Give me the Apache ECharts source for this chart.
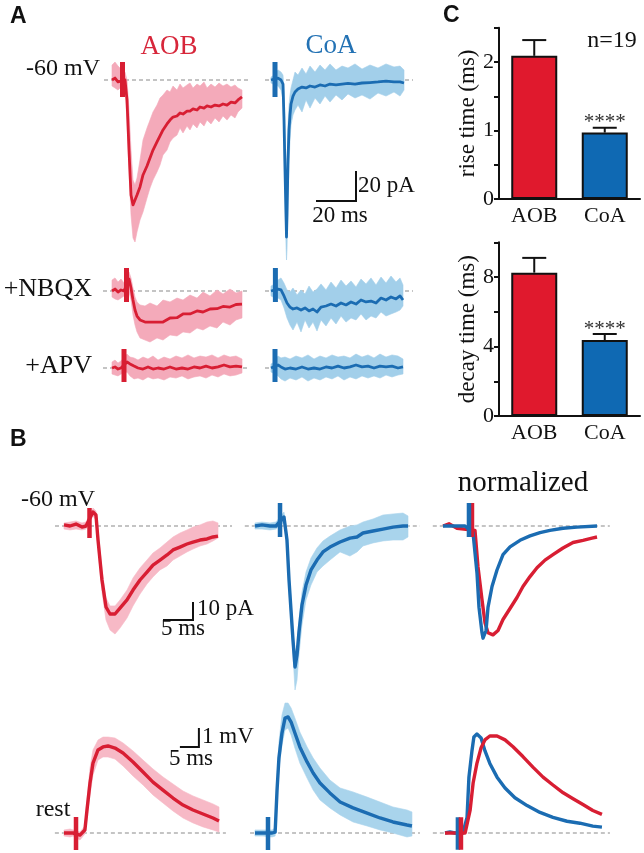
<!DOCTYPE html>
<html>
<head>
<meta charset="utf-8">
<script src="https://cdn.jsdelivr.net/npm/echarts@6/dist/echarts.min.js"></script>
<style>
html,body{margin:0;padding:0;background:#fff;}
#chart{width:644px;height:853px;}
</style>
</head>
<body>
<div id="chart"></div>
<script>
// ---------------- DATA ----------------
// Panel A, -60 mV (time ms, current pA)
const aobA_t  = [0,1.5,3,4,6.5,7.5,8.5,9.5,10.5,11.5,12.5,14,15.5,17.5,19,20.5,22.5,24,25.5,27.5,29,30.5,32.5,34,35.5,37.5,39,40.5,42.5,44,46,47.5,49.5,51.5,53.5,55.5,57.5,59.5,61.5,63,65];
const aobA_i  = [0,1.3,-1.3,0,0,-13.3,-46.7,-76.7,-83.3,-82,-76.7,-71.3,-63.3,-57.3,-52,-46.7,-41.3,-37.3,-33.3,-29.3,-26.7,-24.7,-24,-22,-22.7,-20.7,-20.7,-19.3,-20,-18,-18.7,-17.3,-18,-16.7,-17.3,-16,-16.7,-14.7,-15.3,-13.3,-11.3];
const aobA_hi = [10,12,9.3,8,5.3,0,-20,-46.7,-66.7,-70,-65.3,-53.3,-40,-32,-26.7,-21.3,-16.7,-12,-10,-6.7,-8,-4,-6.7,-2.7,-5.3,-3.3,-2,-5.3,-2.7,-4,-1.3,-5.3,-2.7,-4.7,-2,-4,-2.7,-4.7,-3.3,-5.3,-6.7];
const aobA_lo = [-4,-5.3,-6.7,-5.3,-5.3,-26.7,-60,-90,-105.3,-108,-101.3,-93.3,-88,-78.7,-72,-66.7,-61.3,-56.7,-50,-46.7,-41.3,-38.7,-36.7,-32,-35.3,-30.7,-33.3,-29.3,-32,-28,-30.7,-26.7,-29.3,-25.3,-28,-24,-26.7,-23.3,-25.3,-21.3,-18.7];
const aobA_art = [5.25, 12, -11.3];

const coaA_t  = [0,1,3.5,5,6,6.5,7,7.5,7.75,8,8.5,9,9.5,10,11,12,13.5,15.5,17.5,19.5,22,24.5,27,29.5,32.5,35.5,38.5,42,45.5,49.5,53.5,57.5,61.5,64.5,66.5];
const coaA_i  = [0,0,1.3,0,-2.7,-26.7,-60,-90,-104.7,-90,-53.3,-33.3,-23.3,-16,-10.7,-8,-6,-4.7,-5.3,-4,-4.7,-3.3,-4,-2.7,-3.3,-2.7,-2.3,-2.7,-2,-1.7,-1.3,-0.7,-1.3,-1.3,-2];
const coaA_hi = [2,2.7,6.7,5.3,3.3,-6.7,-33.3,-66.7,-80,-60,-30,-16.7,-10,-5.3,0,5.3,3.3,8,4,9.3,5.3,10,6.7,10.7,6.7,9.3,8,10.7,7.3,10,8,10.7,8.7,9.3,6.7];
const coaA_lo = [-2,-2.7,-4,-6.7,-13.3,-40,-80,-110,-120,-113.3,-80,-56.7,-40,-30,-23.3,-20,-16.7,-21.3,-13.3,-18.7,-12,-16,-10.7,-14.7,-10,-13.3,-9.3,-12,-10,-12.7,-8.7,-10.7,-8,-10.7,-6.7];
const coaA_art = [2, 12, -11.3];

// Panel A, +NBQX
const aobN_t  = [0,1.5,3,4.5,6,8.5,9.5,10.5,11.5,12.5,14,16.5,19,22.5,25.5,29,32.5,35.5,39,42.5,45.5,49,52.5,55.5,59,62,65];
const aobN_i  = [0,1.3,-0.7,0.7,0,8,2,-6,-12.7,-16.7,-19.3,-20.7,-20.7,-20.7,-20.7,-18,-17.8,-15.3,-15.3,-13.3,-14,-12,-11.8,-10.3,-10.7,-9,-8.7];
const aobN_hi = [7.3,8.7,6,8,5.3,12.7,8.7,2,-4,-7.3,-9.3,-10,-8,-10,-6,-7.3,-4.7,-6,-2.7,-4.7,-0.7,-3.3,0.7,-2,1.3,-1.3,0];
const aobN_lo = [-4,-5.3,-6,-4.7,-3.3,-0.7,-6,-16,-22.7,-27.3,-31.3,-32.7,-34,-31.3,-32.7,-29.3,-30,-27.3,-28,-24.7,-26,-23.3,-24.7,-20.7,-22.7,-19.3,-18];
const aobN_art = [7.25, 15.3, -7.3];

const coaN_t  = [0,1,3.5,5,6.5,8,9.5,11,13,15,17,19,21,23,25,27.5,30,32.5,35,37.5,40,42.5,45,47.5,50,52.5,55,57.5,60,62.5,64.5,66];
const coaN_i  = [0,0,1.3,0.7,-3.3,-8,-10.7,-12,-11.3,-12.7,-11.3,-13.3,-12,-14,-10.7,-10,-8.7,-10,-8,-9.3,-7.3,-8.7,-6,-7.3,-6.7,-8,-4.7,-6,-4,-5.3,-3.3,-6];
const coaN_hi = [3.3,4,7.3,8.7,5.3,0.7,-0.7,2,-2.7,0.7,-2,3.3,-0.7,1.3,4.7,0.7,6,2,7.3,3.3,6.7,2.7,8,4.7,8.7,4,9.3,5.3,10,6,8.7,4];
const coaN_lo = [-3.3,-4,-4.7,-6,-11.3,-18,-22.7,-26,-20.7,-27.3,-19.3,-24.7,-20.7,-26.7,-19.3,-23.3,-18,-22,-16.7,-20.7,-18,-19.3,-15.3,-19.3,-16.7,-18,-14,-16.7,-15.3,-14,-12.7,-10];
const coaN_art = [2.2, 15.3, -7.3];

// Panel A, +APV
const aobP_t  = [0,1.5,3,4.5,7.5,9,11,13,15.5,18,20.5,23,26,29,32,35,38,41,44,47,50,53,56,59,62,65];
const aobP_i  = [0,0.7,-0.7,0,4,2.7,1.3,0,-0.7,0.7,-0.7,0,-0.7,0.7,-0.7,0,-0.7,0.7,0,1.3,0,0.7,2,0.7,1.3,0.7];
const aobP_hi = [4,5.3,3.3,4.7,9.3,7.3,6.7,5.3,7.3,6,8,5.3,7.3,6,8,6.7,8.7,6.7,8,7.3,8.7,6.7,8.7,7.3,8,6];
const aobP_lo = [-4,-4.7,-5.3,-4,-2.7,-5.3,-7.3,-6.7,-8,-6,-7.3,-6.7,-8,-6,-6.7,-5.3,-7.3,-6,-5.3,-6.7,-4.7,-6,-4,-5.3,-4.7,-3.3];
const aobP_art = [6, 12.7, -9.3];

const coaP_t  = [0,1,3.5,5,7,9.5,12.5,15.5,18.5,21.5,24.5,27.5,30.5,33.5,36.5,39.5,42.5,45.5,48.5,51.5,54.5,57.5,60.5,63.5,66];
const coaP_i  = [0,0,2,0.7,-0.7,0,-0.7,0.7,-0.7,0,-0.7,0.7,0,1.3,0,0.7,2,0.7,1.3,0,1.3,0.7,1.3,0,0.7];
const coaP_hi = [2.7,3.3,8,6.7,7.3,6,8,6.7,8.7,6,8,6.7,8.7,7.3,8,6.7,9.3,7.3,8.7,6.7,9.3,7.3,8.7,8,6];
const coaP_lo = [-2.7,-3.3,-5.3,-7.3,-8.7,-6.7,-8,-6,-8.7,-6.7,-8,-6,-7.3,-5.3,-8,-6,-7.3,-5.3,-6.7,-5.3,-6.7,-4.7,-6,-4.7,-4];
const coaP_art = [2, 12.7, -9.3];

// Panel B, EPSCs at -60 mV (ms, pA)
const aobBt_t  = [0,1,2,3,3.67,4.83,5.33,5.67,6.33,7,7.67,8.5,9.33,10.5,11.5,12.67,13.83,14.83,16,17.17,18.17,19.33,20.5,21.5,22.67,23.83,24.83,25.67];
const aobBt_i  = [0.6,0,1.1,-0.6,0,7.8,6.1,-7.8,-30,-45,-48.9,-48.9,-45.6,-41.1,-35.6,-30,-25.6,-21.7,-18.9,-16.1,-13.3,-11.7,-10,-8.9,-7.8,-7.2,-6.1,-5.6];
const aobBt_hi = [1.7,2.2,2.8,1.7,2.2,10,8.3,-2.2,-24.4,-40,-44.4,-44.4,-41.1,-35.6,-28.9,-23.3,-18.9,-15,-12.2,-8.9,-6.1,-3.9,-2.2,-0.6,0.6,2.2,2.8,1.7];
const aobBt_lo = [-1.7,-2.2,-1.7,-2.2,-1.7,5.6,3.3,-12.2,-36.7,-52.2,-57.8,-60,-56.7,-51.1,-44.4,-37.8,-32.2,-28.3,-24.4,-22.2,-18.9,-16.7,-14.4,-12.8,-11.1,-10,-8.3,-6.7];
const aobBt_art = [4.25, 10, -6.7];

const coaBt_t  = [0,1.17,2.5,3.5,4.83,5.33,5.67,6,6.33,6.67,7,7.33,7.83,8.5,9.33,10.33,11.33,12.5,14.17,15.83,17,18,19.67,21.33,23,24.67,25.5];
const coaBt_i  = [0,0.6,0,0,5,-7.8,-30,-46.7,-63.3,-78.3,-71.7,-58.9,-43.9,-32.8,-24.4,-18.9,-14.4,-11.7,-8.9,-6.7,-6.1,-3.9,-2.8,-1.7,-0.6,0,0];
const coaBt_hi = [1.7,2.2,1.7,2.2,7.8,-3.9,-25.6,-41.1,-57.8,-71.7,-66.1,-52.2,-36.7,-25.6,-17.8,-12.2,-8.3,-5.6,-2.2,0,0.6,2.2,3.9,6.1,6.7,7.2,5.6];
const coaBt_lo = [-1.7,-1.7,-2.2,-1.7,2.2,-11.7,-35.6,-53.3,-71.7,-91.1,-85.6,-71.7,-55,-41.1,-32.8,-25.6,-22.2,-18.9,-14.4,-16.7,-14.4,-11.1,-9.4,-8.3,-7.8,-7.8,-6.1];
const coaBt_art = [4.17, 12.8, -6.1];

// normalized EPSCs
const nrmBt_blue_t = [0,2,3.67,5,5.67,6,6.5,6.67,7.17,7.5,8.17,9,10,11.17,12.83,14.5,16.17,17.83,20,22.33,25.67];
const nrmBt_blue   = [0,0,0,-0.06,-0.43,-0.74,-0.97,-1.02,-0.95,-0.74,-0.55,-0.4,-0.26,-0.19,-0.13,-0.09,-0.06,-0.04,-0.02,-0.01,0];
const nrmBt_red_t  = [0,1,2.33,5.33,5.83,6.5,7,7.5,8.33,9.17,10,11.17,12.33,13.33,14.5,15.67,17,18.33,20,21.67,23.33,24.83,25.67];
const nrmBt_red    = [0,0.02,-0.02,-0.04,-0.37,-0.67,-0.88,-0.97,-0.99,-0.95,-0.85,-0.75,-0.65,-0.55,-0.46,-0.38,-0.31,-0.26,-0.2,-0.15,-0.13,-0.11,-0.1];
const nrmBt_blue_art = [4.33, 0.21, -0.1];
const nrmBt_red_art  = [4.83, 0.21, -0.1];

// Panel B, EPSPs at rest (ms, mV)
const aobBb_t  = [0,1.6,2.4,4.2,5.5,6.05,6.84,7.63,8.95,10.26,11.58,13.42,15.53,18.16,20.79,23.42,26.05,28.68,31.32,33.95,36.58,39.21,40.79];
const aobBb_v  = [0,0,0,-0.11,0.16,1.21,2.63,3.68,4.37,4.53,4.58,4.47,4.21,3.74,3.21,2.68,2.26,1.84,1.47,1.21,1,0.79,0.63];
const aobBb_hi = [0.16,0.21,0.16,0.05,0.37,1.74,3.42,4.37,4.89,5.05,5.05,5,4.74,4.32,3.84,3.37,2.95,2.58,2.21,1.95,1.74,1.53,1.37];
const aobBb_lo = [-0.16,-0.21,-0.16,-0.37,-0.05,0.79,2,3.05,3.84,4,4,3.89,3.53,3,2.53,2,1.58,1.16,0.79,0.53,0.32,0.16,0.05];
const aobBb_art = [3.16, 0.84, -0.89];

const coaBb_t  = [0,1.3,2.1,4.5,5.3,5.8,6.3,7.1,7.9,8.7,9.5,10.5,11.8,13.7,15.3,17.1,19.7,22.4,25.8,29.5,32.9,36.3,40,41.3];
const coaBb_v  = [0,0,0,0,0.05,2.26,3.95,5.26,6.05,6.11,5.84,5.26,4.53,3.74,3.16,2.63,2.11,1.63,1.32,1.05,0.79,0.58,0.42,0.37];
const coaBb_hi = [0.16,0.16,0.16,0.16,0.26,2.89,4.79,6.21,6.84,6.84,6.58,6.05,5.32,4.53,3.95,3.42,2.79,2.37,2.16,1.89,1.63,1.37,1.21,1.11];
const coaBb_lo = [-0.16,-0.16,-0.16,-0.21,-0.16,1.74,3.42,4.63,5.42,5.53,5.16,4.47,3.68,2.89,2.26,1.74,1.32,0.95,0.58,0.37,0.16,0,-0.21,-0.16];
const coaBb_art = [3.42, 0.84, -0.89];

// normalized EPSPs
const nrmBb_blue_t = [0,1.3,2.6,4.7,5.8,6.3,7.1,7.6,8.4,9.5,10.5,11.8,13.7,15.8,18.4,21.6,25,28.4,32.1,35.5,38.9,41.3];
const nrmBb_blue   = [0,0.01,0,0,0.16,0.57,0.84,0.98,1.01,0.97,0.84,0.71,0.57,0.46,0.36,0.28,0.21,0.16,0.12,0.1,0.07,0.06];
const nrmBb_red_t  = [0,1.3,2.6,5.3,6.6,7.4,8.4,9.5,10.5,11.8,13.7,15.8,17.9,20.5,23.2,25.8,28.4,31.1,33.7,36.3,38.9,41.3];
const nrmBb_red    = [0,0,0,0,0.23,0.51,0.71,0.87,0.95,0.99,0.99,0.95,0.88,0.78,0.67,0.57,0.49,0.41,0.35,0.29,0.23,0.19];
const nrmBb_blue_art = [3.4, 0.16, -0.17];
const nrmBb_red_art  = [4.2, 0.16, -0.17];

// Panel C bar charts
const groups    = ['AOB', 'CoA'];
const riseMean  = [2.09, 0.97];
const riseSem   = [0.23, 0.07];
const decayMean = [8.25, 4.37];
const decaySem  = [0.85, 0.35];
const sigMarks  = ['', '****'];
const riseTicks = [0, 1, 2];
const decayTicks = [0, 4, 8];

// scale bars
const scaleA  = {ms: 20, pA: 20};
const scaleBt = {ms: 5, pA: 10};
const scaleBb = {ms: 5, mV: 1};

// ---------------- STYLE ----------------
const RED = '#D81E33', PINK = '#F4AABA', PINK_B = '#F7B9C6';
const BLUE = '#1B6CB2', LBLUE = '#A2CFEA', LBLUE_B = '#A9D4EC';
const BAR_RED = '#E0192D', BAR_BLUE = '#0F69B3';
const SERIF = '"Liberation Serif","Times New Roman",serif';
const SANS = '"Liberation Sans",Arial,sans-serif';

const option = {
  animation: false,
  backgroundColor: '#ffffff',
  grid: [], xAxis: [], yAxis: [], series: [],
  graphic: {elements: []}
};

function bandRenderer(t, hi, lo, color) {
  return function (params, api) {
    const pts = [];
    for (let k = 0; k < t.length; k++) pts.push(api.coord([t[k], hi[k]]));
    for (let k = t.length - 1; k >= 0; k--) pts.push(api.coord([t[k], lo[k]]));
    return {type: 'polygon', shape: {points: pts}, style: {fill: color, stroke: color, lineWidth: 0.6}};
  };
}

function zip(t, v) { return t.map((x, k) => [x, v[k]]); }

function addTracePanel(cfg, traces) {
  const gi = option.grid.length;
  option.grid.push({
    left: cfg.x0 + cfg.xr[0] * cfg.sx,
    top: cfg.y0 - cfg.yr[1] * cfg.sy,
    width: (cfg.xr[1] - cfg.xr[0]) * cfg.sx,
    height: (cfg.yr[1] - cfg.yr[0]) * cfg.sy,
    containLabel: false, outerBoundsMode: 'none'
  });
  option.xAxis.push({type: 'value', gridIndex: gi, min: cfg.xr[0], max: cfg.xr[1], show: false});
  option.yAxis.push({type: 'value', gridIndex: gi, min: cfg.yr[0], max: cfg.yr[1], show: false});
  option.series.push({
    type: 'line', xAxisIndex: gi, yAxisIndex: gi, data: [[cfg.dash[0], 0], [cfg.dash[1], 0]],
    symbol: 'none', silent: true, z: 1,
    lineStyle: {color: '#8a8a8a', width: 1.2, type: [4, 3]}
  });
  traces.forEach(tr => {
    if (tr.hi) {
      option.series.push({
        type: 'custom', xAxisIndex: gi, yAxisIndex: gi, silent: true, z: 2,
        data: [[tr.t[0], tr.v[0]]],
        renderItem: bandRenderer(tr.t, tr.hi, tr.lo, tr.light)
      });
    }
  });
  traces.forEach(tr => {
    option.series.push({
      type: 'line', xAxisIndex: gi, yAxisIndex: gi, data: zip(tr.t, tr.v),
      symbol: 'none', silent: true, z: 3,
      lineStyle: {color: tr.dark, width: cfg.lw, join: 'round'}
    });
    option.series.push({
      type: 'line', xAxisIndex: gi, yAxisIndex: gi,
      data: [[tr.art[0], tr.art[1]], [tr.art[0], tr.art[2]]],
      symbol: 'none', silent: true, z: 4,
      lineStyle: {color: tr.dark, width: cfg.aw, cap: 'butt'}
    });
  });
  return gi;
}

function addScaleBar(gi, pts) {
  option.series.push({
    type: 'line', xAxisIndex: gi, yAxisIndex: gi, data: pts, symbol: 'none', silent: true, z: 5,
    lineStyle: {color: '#111', width: 2, cap: 'butt', join: 'miter'}
  });
}

// ---- Panel A ----
const cfgA = (x0, y0, yr, dash) => ({x0, y0, sx: 2, sy: 1.5, xr: [-6, 74], yr, dash, lw: 2.8, aw: 5});
addTracePanel(cfgA(112, 80, [-125, 20], [-4, 69]), [{t: aobA_t, v: aobA_i, hi: aobA_hi, lo: aobA_lo, art: aobA_art, dark: RED, light: PINK}]);
const giCoaA = addTracePanel(cfgA(271, 80, [-125, 20], [-3, 71]), [{t: coaA_t, v: coaA_i, hi: coaA_hi, lo: coaA_lo, art: coaA_art, dark: BLUE, light: LBLUE}]);
addTracePanel(cfgA(112, 291, [-45, 22], [-4.5, 69]), [{t: aobN_t, v: aobN_i, hi: aobN_hi, lo: aobN_lo, art: aobN_art, dark: RED, light: PINK}]);
addTracePanel(cfgA(271, 291, [-45, 22], [-3, 71]), [{t: coaN_t, v: coaN_i, hi: coaN_hi, lo: coaN_lo, art: coaN_art, dark: BLUE, light: LBLUE}]);
addTracePanel(cfgA(112, 368, [-15, 16], [-4.5, 69]), [{t: aobP_t, v: aobP_i, hi: aobP_hi, lo: aobP_lo, art: aobP_art, dark: RED, light: PINK}]);
addTracePanel(cfgA(271, 368, [-15, 16], [-3, 66]), [{t: coaP_t, v: coaP_i, hi: coaP_hi, lo: coaP_lo, art: coaP_art, dark: BLUE, light: LBLUE}]);
// 20 ms / 20 pA scale bar (corner at 42.5 ms, -80.7 pA in CoA grid)
addScaleBar(giCoaA, [[42.5 - scaleA.ms, -80.7], [42.5, -80.7], [42.5, -80.7 + scaleA.pA]]);

// ---- Panel B top (EPSC) ----
const cfgBt = (x0, sy, yr, dash) => ({x0, y0: 526, sx: 6, sy, xr: [-3, 30], yr, dash, lw: 3.4, aw: 4.5});
const giAobBt = addTracePanel(cfgBt(64, 1.8, [-65, 15], [-1.5, 28]), [{t: aobBt_t, v: aobBt_i, hi: aobBt_hi, lo: aobBt_lo, art: aobBt_art, dark: RED, light: PINK_B}]);
addTracePanel(cfgBt(255, 1.8, [-95, 15], [-1.7, 27.5]), [{t: coaBt_t, v: coaBt_i, hi: coaBt_hi, lo: coaBt_lo, art: coaBt_art, dark: BLUE, light: LBLUE_B}]);
addTracePanel(cfgBt(443, 110, [-1.2, 0.3], [-1.7, 27.8]), [
  {t: nrmBt_red_t, v: nrmBt_red, art: nrmBt_red_art, dark: RED},
  {t: nrmBt_blue_t, v: nrmBt_blue, art: nrmBt_blue_art, dark: BLUE}
]);
addScaleBar(giAobBt, [[21.5 - scaleBt.ms, -52.2], [21.5, -52.2], [21.5, -52.2 + scaleBt.pA]]);

// ---- Panel B bottom (EPSP) ----
const cfgBb = (x0, sy, yr, dash) => ({x0, y0: 833, sx: 3.8, sy, xr: [-4, 46], yr, dash, lw: 3.4, aw: 4.5});
const giAobBb = addTracePanel(cfgBb(64, 19, [-1.2, 6], [-2.4, 42.6]), [{t: aobBb_t, v: aobBb_v, hi: aobBb_hi, lo: aobBb_lo, art: aobBb_art, dark: RED, light: PINK_B}]);
addTracePanel(cfgBb(255, 19, [-1.2, 7.5], [-1.3, 43.4]), [{t: coaBb_t, v: coaBb_v, hi: coaBb_hi, lo: coaBb_lo, art: coaBb_art, dark: BLUE, light: LBLUE_B}]);
addTracePanel(cfgBb(445, 98, [-0.25, 1.2], [-3.2, 43.4]), [
  {t: nrmBb_blue_t, v: nrmBb_blue, art: nrmBb_blue_art, dark: BLUE},
  {t: nrmBb_red_t, v: nrmBb_red, art: nrmBb_red_art, dark: RED}
]);
addScaleBar(giAobBb, [[35.5 - scaleBb.ms, 4.53], [35.5, 4.53], [35.5, 4.53 + scaleBb.mV]]);

// ---- Panel C bar charts ----
function addBarChart(cfg, mean, sem, ticks, name) {
  const gi = option.grid.length;
  option.grid.push({left: cfg.left, top: cfg.top, width: cfg.width, height: cfg.height, containLabel: false, outerBoundsMode: 'none'});
  option.xAxis.push({
    type: 'category', gridIndex: gi, data: groups,
    axisLine: {lineStyle: {color: '#111', width: 2}},
    axisTick: {alignWithLabel: true, length: 5, lineStyle: {color: '#111', width: 2}},
    axisLabel: {color: '#111', fontSize: 22, fontFamily: SERIF, margin: 6}
  });
  option.yAxis.push({
    type: 'value', gridIndex: gi, min: 0, max: cfg.max, interval: cfg.interval,
    splitLine: {show: false},
    axisLine: {show: true, lineStyle: {color: '#111', width: 2}},
    axisTick: {show: true, length: 5, lineStyle: {color: '#111', width: 2}},
    axisLabel: {color: '#111', fontSize: 22, fontFamily: SERIF, margin: 5,
      formatter: v => ticks.indexOf(v) >= 0 ? String(v) : ''},
    name: name, nameLocation: 'middle', nameGap: 14, nameRotate: 90,
    nameTextStyle: {color: '#111', fontSize: 23, fontFamily: SERIF}
  });
  option.series.push({
    type: 'bar', xAxisIndex: gi, yAxisIndex: gi, barWidth: 46, silent: true,
    data: mean.map((m, i) => ({value: m, itemStyle: {color: i === 0 ? BAR_RED : BAR_BLUE, borderColor: '#111', borderWidth: 2}}))
  });
  option.series.push({
    type: 'custom', xAxisIndex: gi, yAxisIndex: gi, silent: true, z: 5,
    data: mean.map((m, i) => [i, m, sem[i]]),
    encode: {x: 0, y: 1},
    renderItem: function (params, api) {
      const i = api.value(0), m = api.value(1), e = api.value(2);
      const p0 = api.coord([i, m]);
      const p1 = api.coord([i, m + e]);
      const kids = [
        {type: 'line', shape: {x1: p0[0], y1: p0[1], x2: p1[0], y2: p1[1]}, style: {stroke: '#111', lineWidth: 2}},
        {type: 'line', shape: {x1: p1[0] - 12, y1: p1[1], x2: p1[0] + 12, y2: p1[1]}, style: {stroke: '#111', lineWidth: 2}}
      ];
      const s = sigMarks[params.dataIndex];
      if (s) kids.push({type: 'text', x: p1[0], y: p1[1] - 5, style: {text: s, fill: '#333', font: '21px ' + SERIF, align: 'center', verticalAlign: 'middle', textAlign: 'center', textVerticalAlign: 'middle'}});
      return {type: 'group', children: kids};
    }
  });
}
addBarChart({left: 499, top: 27.75, width: 141, height: 171.25, max: 2.5, interval: 0.5}, riseMean, riseSem, riseTicks, 'rise time (ms)');
addBarChart({left: 499, top: 242.25, width: 141, height: 173.75, max: 10, interval: 2}, decayMean, decaySem, decayTicks, 'decay time (ms)');

// ---- Text labels ----
function txt(text, x, y, font, align, fill) {
  option.graphic.elements.push({
    type: 'text', x: x, y: y, silent: true, z: 10,
    style: {text: text, font: font, fill: fill || '#111', align: align, verticalAlign: 'middle', textAlign: align, textVerticalAlign: 'middle'}
  });
}
txt('A', 10, 17, 'bold 23px ' + SANS, 'left');
txt('B', 10, 440, 'bold 23px ' + SANS, 'left');
txt('C', 443, 16, 'bold 23px ' + SANS, 'left');
txt('AOB', 169, 47, '27px ' + SERIF, 'center', '#D7263A');
txt('CoA', 331, 46, '27px ' + SERIF, 'center', '#2372B4');
txt('-60 mV', 100, 69, '24px ' + SERIF, 'right');
txt('+NBQX', 92, 289, '26px ' + SERIF, 'right');
txt('+APV', 92, 366, '26px ' + SERIF, 'right');
txt('20 pA', 358, 186, '23px ' + SERIF, 'left');
txt('20 ms', 340, 216, '23px ' + SERIF, 'center');
txt('n=19', 612, 41, '24px ' + SERIF, 'center');
txt('-60 mV', 95, 500, '24px ' + SERIF, 'right');
txt('normalized', 523, 483, '29px ' + SERIF, 'center');
txt('10 pA', 197, 609, '23px ' + SERIF, 'left');
txt('5 ms', 183, 629, '23px ' + SERIF, 'center');
txt('1 mV', 202, 737, '23px ' + SERIF, 'left');
txt('5 ms', 191, 759, '23px ' + SERIF, 'center');
txt('rest', 53, 810, '24px ' + SERIF, 'center');

const chart = echarts.init(document.getElementById('chart'), null, {renderer: 'canvas', width: 644, height: 853});
chart.setOption(option);
</script>
</body>
</html>
